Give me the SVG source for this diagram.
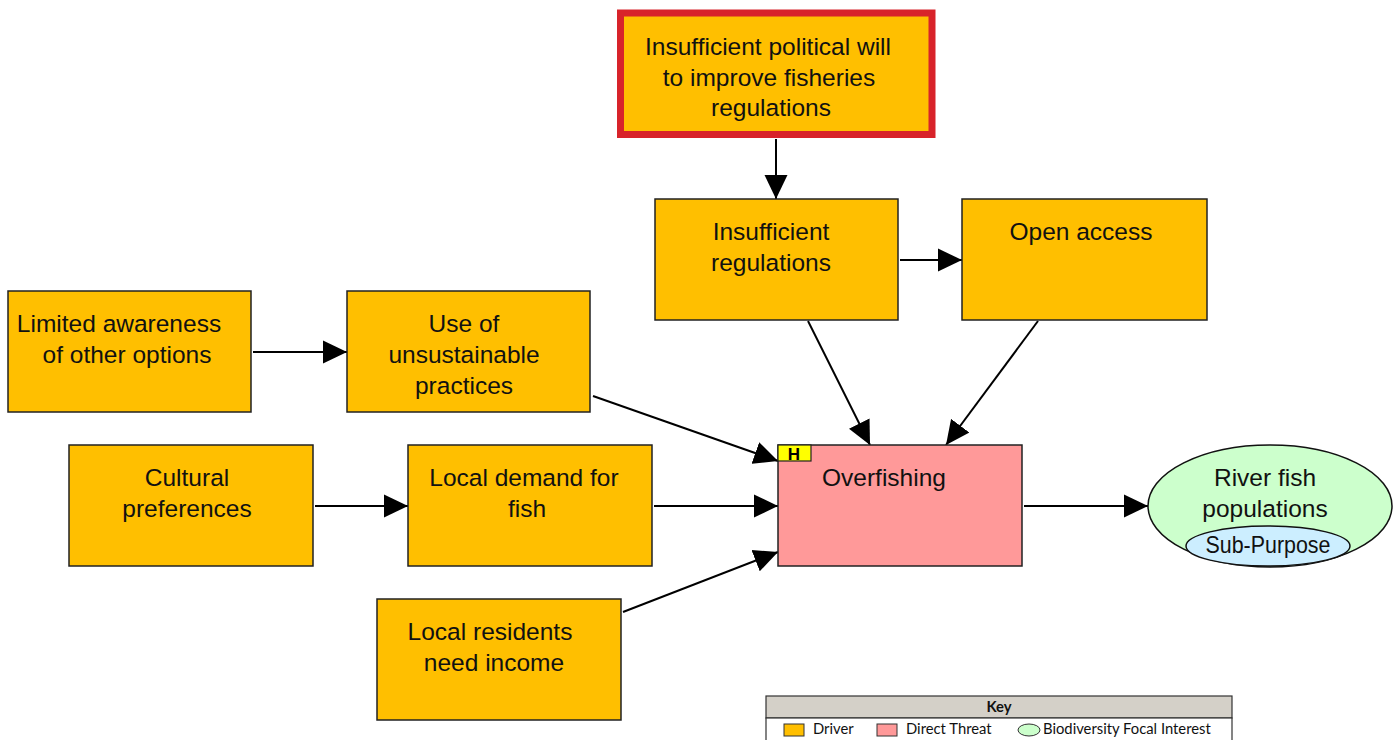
<svg xmlns="http://www.w3.org/2000/svg" width="1393" height="740" viewBox="0 0 1393 740">
<style>
.drv{fill:#FFBF00;stroke:#222;stroke-width:1.5}
.t{font-family:"Liberation Sans",Arial,sans-serif;font-size:24.5px;fill:#111;text-anchor:middle}
.c{stroke:#000;stroke-width:2;fill:none;marker-end:url(#ah)}
.k{font-family:Lato,"Open Sans",sans-serif;font-size:14.8px;fill:#111}
</style>
<defs>
<marker id="ah" markerUnits="userSpaceOnUse" markerWidth="24" markerHeight="24" viewBox="0 0 23 22" refX="23" refY="11" orient="auto">
<path d="M0,0 L23,11 L0,22 Z" fill="#000"/>
</marker>
</defs>
<rect width="1393" height="740" fill="#fff"/>
<g id="connectors">
<line class="c" x1="776" y1="139" x2="776" y2="199"/>
<line class="c" x1="900" y1="260" x2="962" y2="260"/>
<line class="c" x1="253" y1="352" x2="347" y2="352"/>
<line class="c" x1="593" y1="396" x2="778" y2="461"/>
<line class="c" x1="315" y1="506" x2="408" y2="506"/>
<line class="c" x1="654" y1="506" x2="778" y2="506"/>
<line class="c" x1="623" y1="612" x2="778" y2="552"/>
<line class="c" x1="808" y1="321" x2="870" y2="445"/>
<line class="c" x1="1038" y1="321" x2="946" y2="445"/>
<line class="c" x1="1024" y1="506" x2="1148" y2="506"/>
</g>
<g id="n-political-will">
<rect x="620.5" y="13" width="311.5" height="121.5" fill="#FFBF00" stroke="#D8232A" stroke-width="7"/>
<text class="t" x="768" y="55">Insufficient political will</text>
<text class="t" x="769" y="86">to improve fisheries</text>
<text class="t" x="771" y="116">regulations</text>
</g>
<g id="n-insufficient-regulations">
<rect class="drv" x="655" y="199" width="243" height="121"/>
<text class="t" x="771" y="240">Insufficient</text>
<text class="t" x="771" y="271">regulations</text>
</g>
<g id="n-open-access">
<rect class="drv" x="962" y="199" width="245" height="121"/>
<text class="t" x="1081" y="240">Open access</text>
</g>
<g id="n-limited-awareness">
<rect class="drv" x="8" y="291" width="243" height="121"/>
<text class="t" x="119" y="332">Limited awareness</text>
<text class="t" x="127" y="363">of other options</text>
</g>
<g id="n-unsustainable">
<rect class="drv" x="347" y="291" width="243" height="121"/>
<text class="t" x="464" y="332">Use of</text>
<text class="t" x="464" y="363">unsustainable</text>
<text class="t" x="464" y="394">practices</text>
</g>
<g id="n-cultural">
<rect class="drv" x="69" y="445" width="244" height="121"/>
<text class="t" x="187" y="486">Cultural</text>
<text class="t" x="187" y="517">preferences</text>
</g>
<g id="n-local-demand">
<rect class="drv" x="408" y="445" width="244" height="121"/>
<text class="t" x="524" y="486">Local demand for</text>
<text class="t" x="527" y="517">fish</text>
</g>
<g id="n-local-residents">
<rect class="drv" x="377" y="599" width="244" height="121"/>
<text class="t" x="490" y="640">Local residents</text>
<text class="t" x="494" y="671">need income</text>
</g>
<g id="n-overfishing">
<rect x="778" y="445" width="244" height="121" fill="#FF9999" stroke="#222" stroke-width="1.5"/>
<text class="t" x="884" y="486">Overfishing</text>
<rect x="778" y="445" width="33" height="16" fill="#FFFF00" stroke="#222" stroke-width="1.2"/>
<text x="794" y="459.5" font-family="Liberation Sans,Arial,sans-serif" font-size="17" font-weight="bold" text-anchor="middle" fill="#000">H</text>
</g>
<g id="n-river-fish">
<ellipse cx="1270" cy="506" rx="122" ry="61" fill="#CCFFCC" stroke="#111" stroke-width="1.5"/>
<text class="t" x="1265" y="486">River fish</text>
<text class="t" x="1265" y="517">populations</text>
<ellipse cx="1268" cy="546" rx="82" ry="20" fill="#CCEEFF" stroke="#111" stroke-width="1.5"/>
<text class="t" x="1268" y="553" font-size="21.5px" textLength="125" lengthAdjust="spacingAndGlyphs">Sub-Purpose</text>
</g>
<g id="key">
<rect x="766" y="696" width="466" height="22" fill="#D4D0C8" stroke="#333" stroke-width="1.2"/>
<rect x="766" y="718" width="466" height="24" fill="#fff" stroke="#333" stroke-width="1.2"/>
<text class="k" x="999" y="712" text-anchor="middle" font-weight="bold">Key</text>
<rect x="784" y="724" width="20" height="12" fill="#FFBF00" stroke="#333"/>
<text class="k" x="813" y="734">Driver</text>
<rect x="877" y="724" width="20" height="12" fill="#FF9999" stroke="#333"/>
<text class="k" x="906" y="734">Direct Threat</text>
<ellipse cx="1029" cy="730" rx="11" ry="6" fill="#CCFFCC" stroke="#333"/>
<text class="k" x="1043" y="734">Biodiversity Focal Interest</text>
</g>
</svg>
